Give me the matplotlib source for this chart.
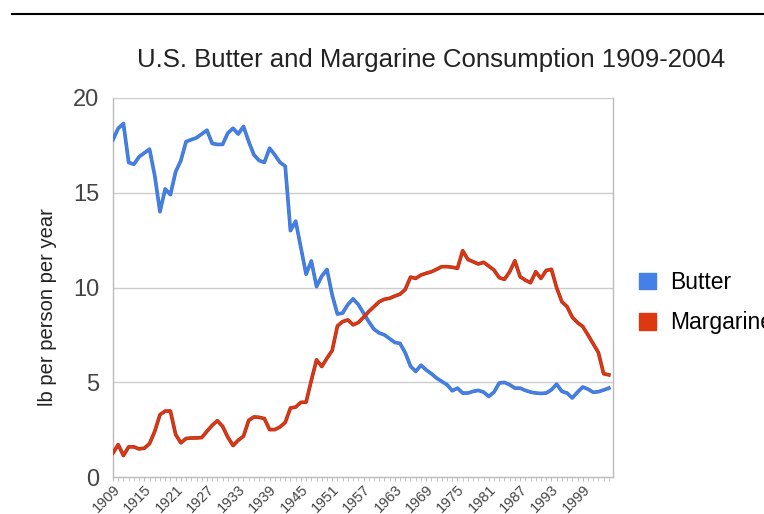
import matplotlib
matplotlib.use("Agg")
import matplotlib.pyplot as plt
from matplotlib.lines import Line2D
from matplotlib.patches import Patch
import matplotlib.patheffects as pe
import numpy as np

plt.rcParams['font.family'] = ['Liberation Sans', 'DejaVu Sans']

years = list(range(1909, 2005))

butter = [17.8, 18.4, 18.65, 16.6, 16.5, 16.9, 17.1, 17.3, 15.9, 14.0,
          15.2, 14.9, 16.1, 16.7, 17.7, 17.8, 17.9, 18.1, 18.3, 17.6,
          17.55, 17.55, 18.15, 18.4, 18.1, 18.5, 17.7, 17.0, 16.7, 16.6,
          17.35, 17.0, 16.6, 16.4, 13.0, 13.5, 12.1, 10.7, 11.4, 10.05,
          10.6, 10.95, 9.6, 8.6, 8.65, 9.1, 9.4, 9.1, 8.65, 8.2,
          7.8, 7.6, 7.5, 7.3, 7.1, 7.05, 6.55, 5.85, 5.57, 5.9,
          5.65, 5.45, 5.22, 5.04, 4.87, 4.55, 4.69, 4.43, 4.43, 4.52,
          4.57, 4.48, 4.25, 4.48, 4.96, 4.99, 4.87, 4.69, 4.69, 4.57,
          4.48, 4.43, 4.41, 4.43, 4.6, 4.9, 4.52, 4.43, 4.17, 4.48,
          4.75, 4.64, 4.47, 4.5, 4.59, 4.69]

margarine = [1.27, 1.71, 1.13, 1.59, 1.59, 1.48, 1.52, 1.76, 2.41, 3.29,
             3.48, 3.48, 2.24, 1.8, 2.03, 2.06, 2.06, 2.08, 2.41, 2.73,
             2.97, 2.67, 2.1, 1.66, 1.94, 2.15, 2.99, 3.17, 3.15, 3.08,
             2.5, 2.5, 2.64, 2.88, 3.64, 3.69, 3.94, 3.95, 5.1, 6.18,
             5.83, 6.27, 6.68, 7.97, 8.2, 8.29, 8.03, 8.15, 8.43, 8.73,
             8.99, 9.25, 9.38, 9.43, 9.55, 9.65, 9.9, 10.55, 10.48, 10.66,
             10.75, 10.83, 10.96, 11.1, 11.1, 11.07, 11.01, 11.94, 11.48, 11.36,
             11.24, 11.33, 11.13, 10.92, 10.52, 10.43, 10.83, 11.41, 10.57, 10.39,
             10.25, 10.83, 10.48, 10.9, 10.96, 9.99, 9.25, 8.99, 8.43, 8.15,
             7.94, 7.5, 7.03, 6.57, 5.45, 5.39]

series_names = ["Butter", "Margarine"]
colors = ["#4480e6", "#dc3912"]
edge_colors = ["#3a6fc9", "#a8261a"]
xtick_years = list(range(1909, 2000, 6))
yticks = [0, 5, 10, 15, 20]

fig = plt.figure(figsize=(7.64, 5.14), dpi=100)
ax = fig.add_axes([113/764, 1-477/514, 500/764, 379/514])

for y in yticks[1:]:
    ax.axhline(y, color="#cccccc", lw=1.0, zorder=1)

for vals, c, ec in zip([butter, margarine], colors, edge_colors):
    ax.plot(years, vals, color=c, lw=1.8, zorder=3, solid_joinstyle='round',
            path_effects=[pe.Stroke(linewidth=2.6, foreground=ec), pe.Normal()])

ax.set_xlim(1909, 2004.8)
ax.set_ylim(0, 20)
ax.set_yticks(yticks)
ax.set_yticklabels([str(v) for v in yticks], fontsize=17, color="#444444")
ax.tick_params(axis='y', length=0, pad=10)
ax.set_xticks(xtick_years)
ax.set_xticks(years, minor=True)
ax.set_xticklabels([str(v) for v in xtick_years], rotation=45, ha='right', va='top',
                   rotation_mode='anchor', fontsize=10.5, color="#444444")
ax.tick_params(axis='x', which='both', length=3, color="#bbbbbb", direction='out', pad=1)

for s in ['left', 'bottom', 'right']:
    ax.spines[s].set_color("#bbbbbb")
    ax.spines[s].set_linewidth(1.0)
ax.spines['top'].set_visible(False)

ax.set_ylabel("lb per person per year", fontsize=14.5, color="#222222")
ax.yaxis.set_label_coords(-0.112, 0.449)

fig.text(431/764, 1-60/514, "U.S. Butter and Margarine Consumption 1909-2004",
         ha='center', va='center', fontsize=18.5, color="#222222")

fig.add_artist(Line2D([12/764, 1.0], [1-14/514, 1-14/514], color='black', lw=1.5,
                      transform=fig.transFigure))

handles = [Patch(facecolor=c, edgecolor=c) for c in colors]
fig.legend(handles, series_names, loc='upper left', bbox_to_anchor=(639/764, 1-271/514),
           frameon=False, fontsize=16.5, handlelength=0.75, handleheight=0.75,
           handletextpad=0.6, labelspacing=0.75, borderaxespad=0, borderpad=0)

fig.savefig("out.png", dpi=100)
